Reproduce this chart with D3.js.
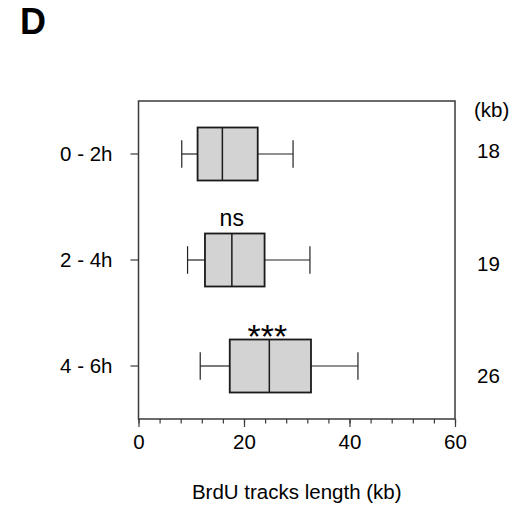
<!DOCTYPE html>
<html>
<head>
<meta charset="utf-8">
<script src="https://cdn.jsdelivr.net/npm/d3@7/dist/d3.min.js"></script>
<style>
  html, body { margin: 0; padding: 0; background: #fff; }
  svg { display: block; font-family: "Liberation Sans", Arial, Helvetica, sans-serif; }
</style>
</head>
<body>
<svg id="chart" width="528" height="509"></svg>
<script>
// Time windows after labelling
const categories = ["0 - 2h", "2 - 4h", "4 - 6h"];
// Box-plot statistics of BrdU track length (kb)
const whiskerLow  = [8.2, 9.3, 11.7];
const q1          = [11.2, 12.6, 17.3];
const medians     = [15.9, 17.7, 24.8];
const q3          = [22.6, 23.9, 32.7];
const whiskerHigh = [29.3, 32.5, 41.6];
// Mean track length printed at the right, and significance marks
const meanLengths = [18, 19, 26];
const significance = ["", "ns", "***"];
// Axis ticks
const majorTicks = [0, 20, 40, 60];
const minorTicks = d3.range(0, 61, 4);

const svg = d3.select("#chart");
const plotLeft = 138.5, plotRight = 455, plotTop = 101, plotBottom = 419;

const x = d3.scaleLinear().domain([0, 60]).range([plotLeft, plotRight]);
const y = d3.scaleBand().domain(categories).range([plotTop, plotBottom]).padding(0);
const yRight = d3.scalePoint().domain(categories).range([158, 383]);

const rows = categories.map((c, i) => ({
  cat: c, lo: whiskerLow[i], q1: q1[i], med: medians[i], q3: q3[i], hi: whiskerHigh[i],
  mean: meanLengths[i], sig: significance[i]
}));

const frameColor = "#3a3a3a";

// Panel letter
svg.append("text").attr("x", 20).attr("y", 34)
  .attr("font-size", 36).attr("font-weight", "bold").attr("fill", "#000").text("D");

// Bottom axis: minor and major ticks
const xAxisMinor = d3.axisBottom(x).tickValues(minorTicks).tickSize(4.5).tickFormat("");
const xAxisMajor = d3.axisBottom(x).tickValues(majorTicks).tickSize(8).tickPadding(7).tickFormat(d3.format("d"));
const gxm = svg.append("g").attr("transform", `translate(0,${plotBottom})`).call(xAxisMinor);
const gx = svg.append("g").attr("transform", `translate(0,${plotBottom})`).call(xAxisMajor);
[gxm, gx].forEach(g => {
  g.select(".domain").remove();
  g.selectAll(".tick line").attr("stroke", frameColor).attr("stroke-width", 1.2);
});
gx.selectAll(".tick text").attr("font-size", 20.5).attr("fill", "#000")
  .attr("font-family", "'Liberation Sans', Arial, sans-serif");

// Left axis
const yAxis = d3.axisLeft(y).tickSize(8).tickPadding(18);
const gy = svg.append("g").attr("transform", `translate(${plotLeft},0)`).call(yAxis);
gy.select(".domain").remove();
gy.selectAll(".tick line").attr("stroke", frameColor).attr("stroke-width", 1.2);
gy.selectAll(".tick text").attr("font-size", 20.5).attr("fill", "#000")
  .attr("font-family", "'Liberation Sans', Arial, sans-serif");

// Plot frame
svg.append("rect").attr("x", plotLeft).attr("y", plotTop)
  .attr("width", plotRight - plotLeft).attr("height", plotBottom - plotTop)
  .attr("fill", "none").attr("stroke", frameColor).attr("stroke-width", 1.5);

// Box plots
const boxH = y.bandwidth() * 0.5;
const capH = y.bandwidth() * 0.26;
const g = svg.append("g");
rows.forEach(r => {
  const cy = y(r.cat) + y.bandwidth() / 2;
  const wg = g.append("g").attr("stroke", "#222").attr("stroke-width", 1.2);
  wg.append("line").attr("x1", x(r.lo)).attr("x2", x(r.q1)).attr("y1", cy).attr("y2", cy);
  wg.append("line").attr("x1", x(r.q3)).attr("x2", x(r.hi)).attr("y1", cy).attr("y2", cy);
  wg.append("line").attr("x1", x(r.lo)).attr("x2", x(r.lo)).attr("y1", cy - capH / 2).attr("y2", cy + capH / 2);
  wg.append("line").attr("x1", x(r.hi)).attr("x2", x(r.hi)).attr("y1", cy - capH / 2).attr("y2", cy + capH / 2);
  g.append("rect").attr("x", x(r.q1)).attr("y", cy - boxH / 2)
    .attr("width", x(r.q3) - x(r.q1)).attr("height", boxH)
    .attr("fill", "#d3d3d3").attr("stroke", "#1a1a1a").attr("stroke-width", 1.8);
  g.append("line").attr("x1", x(r.med)).attr("x2", x(r.med))
    .attr("y1", cy - boxH / 2).attr("y2", cy + boxH / 2)
    .attr("stroke", "#1a1a1a").attr("stroke-width", 1.5);
});

// Significance marks above boxes
rows.filter(r => r.sig).forEach(r => {
  const cy = y(r.cat) + y.bandwidth() / 2;
  const cx = (x(r.q1) + x(r.q3)) / 2 - 3;
  const isStars = r.sig.startsWith("*");
  svg.append("text").attr("x", cx)
    .attr("y", isStars ? cy - boxH / 2 + 8 : cy - boxH / 2 - 8)
    .attr("text-anchor", "middle")
    .attr("font-size", isStars ? 34 : 23).attr("fill", "#000").text(r.sig);
});

// Mean lengths column
svg.append("text").attr("x", 474).attr("y", 117).attr("font-size", 20.5).attr("fill", "#000").text("(kb)");
svg.selectAll("text.mean").data(rows).join("text").attr("class", "mean")
  .attr("x", 477).attr("y", d => yRight(d.cat))
  .attr("font-size", 20.5).attr("fill", "#000").text(d => d.mean);

// Axis title
svg.append("text").attr("x", (plotLeft + plotRight) / 2).attr("y", 499)
  .attr("text-anchor", "middle").attr("font-size", 20.5).attr("fill", "#000")
  .text("BrdU tracks length (kb)");
</script>
</body>
</html>
